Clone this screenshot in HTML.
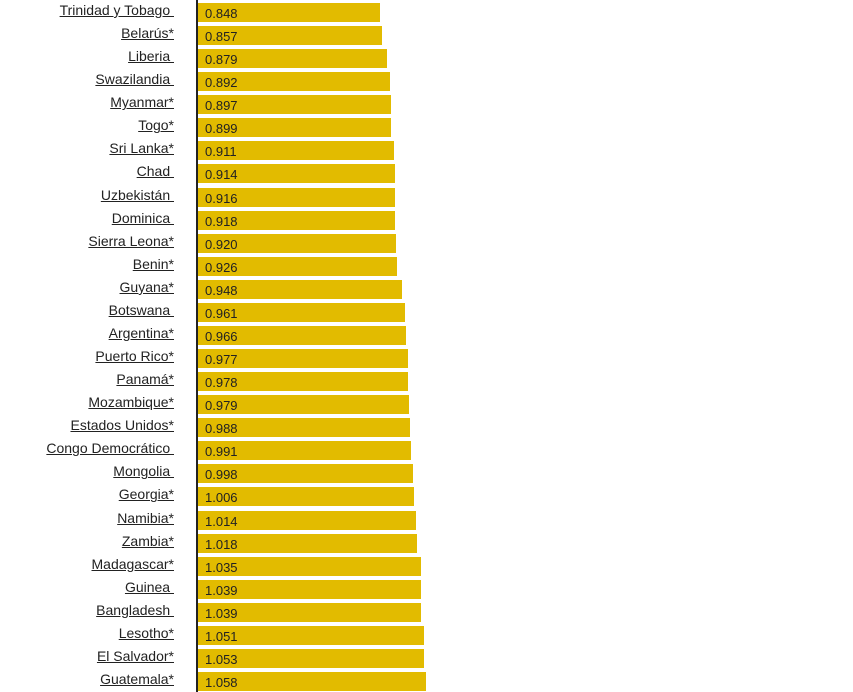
<!DOCTYPE html><html><head><style>
body{margin:0;background:#fff;width:853px;height:692px;overflow:hidden;font-family:"Liberation Sans",Arial,sans-serif;position:relative}
.r{position:absolute;left:0;height:19px}
.l{position:absolute;right:679px;top:-2px;font-size:14px;color:#222;text-decoration:underline;white-space:pre;text-align:right;line-height:19px}
.b{position:absolute;left:198px;top:0;height:19px;background:#e2bb00}
.v{position:absolute;left:205px;top:1px;font-size:13px;color:#222;line-height:19px}
.ax{position:absolute;left:196px;top:0;width:2px;height:692px;background:#222}
</style></head><body>
<div class="ax"></div>
<div id="c"></div>
<script>
var d=[["Trinidad y Tobago ",0.848],["Belarús*",0.857],["Liberia ",0.879],["Swazilandia ",0.892],["Myanmar*",0.897],["Togo*",0.899],["Sri Lanka*",0.911],["Chad ",0.914],["Uzbekistán ",0.916],["Dominica ",0.918],["Sierra Leona*",0.920],["Benin*",0.926],["Guyana*",0.948],["Botswana ",0.961],["Argentina*",0.966],["Puerto Rico*",0.977],["Panamá*",0.978],["Mozambique*",0.979],["Estados Unidos*",0.988],["Congo Democrático ",0.991],["Mongolia ",0.998],["Georgia*",1.006],["Namibia*",1.014],["Zambia*",1.018],["Madagascar*",1.035],["Guinea ",1.039],["Bangladesh ",1.039],["Lesotho*",1.051],["El Salvador*",1.053],["Guatemala*",1.058]];
var h="";d.forEach(function(e,i){var y=3+i*23.07;h+='<div class="r" style="top:'+y+'px;width:853px"><span class="l">'+e[0]+'</span><div class="b" style="width:'+(e[1]*215).toFixed(1)+'px"></div><span class="v">'+e[1].toFixed(3)+'</span></div>';});
document.getElementById("c").innerHTML=h;
</script></body></html>
